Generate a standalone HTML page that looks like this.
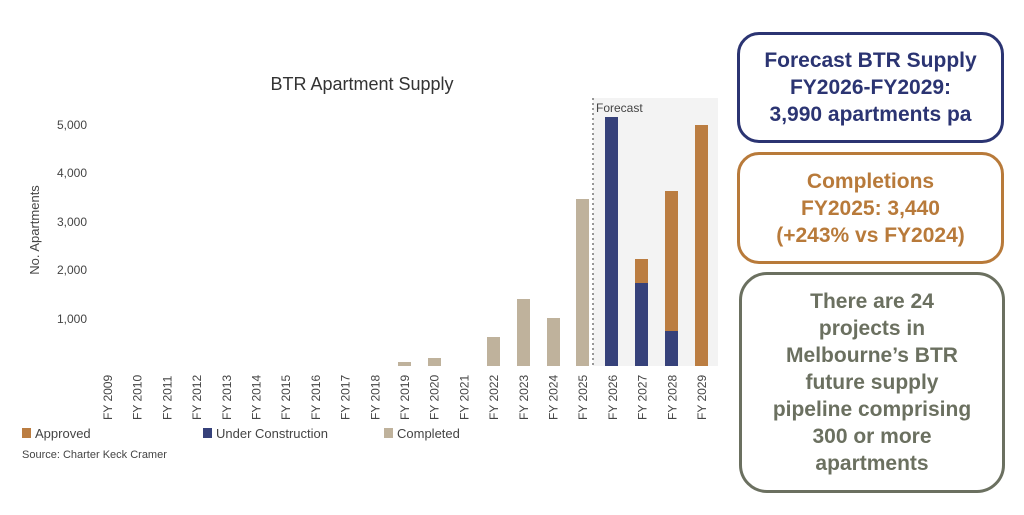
<!DOCTYPE html>
<html><head><meta charset="utf-8"><style>
body{margin:0;width:1024px;height:515px;background:#fff;font-family:"Liberation Sans",sans-serif;position:relative;overflow:hidden}
.box{position:absolute;box-sizing:border-box;border-radius:22px;border:3px solid;text-align:center;font-weight:bold;font-size:21px;line-height:27px;display:flex;align-items:center;justify-content:center}
</style></head><body>
<svg width="730" height="515" style="position:absolute;left:0;top:0" font-family="Liberation Sans,sans-serif">
<text x="362" y="90" font-size="18" text-anchor="middle" fill="#333">BTR Apartment Supply</text>
<rect x="593" y="98" width="125" height="268" fill="#f3f3f3"/>
<line x1="593" y1="98" x2="593" y2="366" stroke="#777" stroke-width="1.5" stroke-dasharray="2,3"/>
<text x="596" y="112" font-size="12" fill="#444">Forecast</text>
<g font-size="12" fill="#444" text-anchor="end">
<text x="87" y="129">5,000</text><text x="87" y="177">4,000</text><text x="87" y="226">3,000</text><text x="87" y="274">2,000</text><text x="87" y="323">1,000</text>
</g>
<text transform="translate(39,230) rotate(-90)" font-size="13" fill="#444" text-anchor="middle">No. Apartments</text>
<g fill="#bfb29c">
<rect x="398" y="362" width="13" height="4"/>
<rect x="428" y="358" width="13" height="8"/>
<rect x="487" y="337" width="13" height="29"/>
<rect x="517" y="299" width="13" height="67"/>
<rect x="547" y="318" width="13" height="48"/>
<rect x="576" y="199" width="13" height="167"/>
</g>
<g fill="#36417a">
<rect x="605" y="117" width="13" height="249"/>
<rect x="635" y="283" width="13" height="83"/>
<rect x="665" y="331" width="13" height="35"/>
</g>
<g fill="#bb7d41">
<rect x="635" y="259" width="13" height="24"/>
<rect x="665" y="191" width="13" height="140"/>
<rect x="695" y="125" width="13" height="241"/>
</g>
<g font-size="12" fill="#444" id="xl"></g>
<rect x="22" y="428" width="9" height="10" fill="#bb7d41"/><text x="35" y="438" font-size="13" fill="#444">Approved</text>
<rect x="203" y="428" width="9" height="10" fill="#36417a"/><text x="216" y="438" font-size="13" fill="#444">Under Construction</text>
<rect x="384" y="428" width="9" height="10" fill="#bfb29c"/><text x="397" y="438" font-size="13" fill="#444">Completed</text>
<text x="22" y="458" font-size="11" fill="#444">Source: Charter Keck Cramer</text>
</svg>
<script>
var g=document.getElementById('xl'),s='';
for(var i=0;i<21;i++){var x=108+i*29.7;s+='<text transform="translate('+(x+4)+',420) rotate(-90)">FY '+(2009+i)+'</text>';}
g.innerHTML=s;
</script>
<div class="box" style="left:737px;top:32px;width:267px;height:111px;border-color:#2b3472;color:#2b3472">Forecast BTR Supply<br>FY2026-FY2029:<br>3,990 apartments pa</div>
<div class="box" style="left:737px;top:152px;width:267px;height:112px;border-color:#b87a3a;color:#b87a3a">Completions<br>FY2025: 3,440<br>(+243% vs FY2024)</div>
<div class="box" style="left:739px;top:272px;width:266px;height:221px;border-color:#6b7060;color:#6b7060;border-radius:28px">There are 24<br>projects in<br>Melbourne’s BTR<br>future supply<br>pipeline comprising<br>300 or more<br>apartments</div>
</body></html>
